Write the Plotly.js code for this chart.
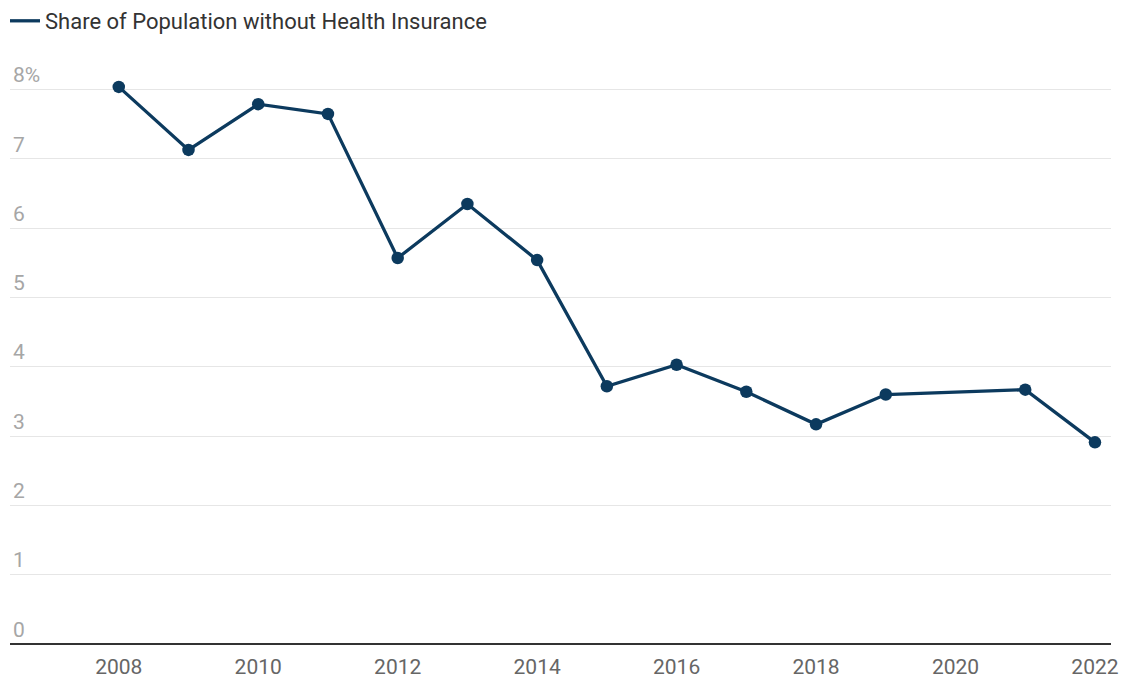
<!DOCTYPE html>
<html>
<head>
<meta charset="utf-8">
<script src="https://cdn.plot.ly/plotly-3.0.1.min.js"></script>
<style>html,body{margin:0;padding:0;background:#fff;}#chart{width:1123px;height:679px;}</style>
</head>
<body>
<div id="chart"></div>
<script>
const years = [2008, 2009, 2010, 2011, 2012, 2013, 2014, 2015, 2016, 2017, 2018, 2019, 2021, 2022];
const uninsuredShare = [8.04, 7.13, 7.79, 7.65, 5.57, 6.35, 5.54, 3.72, 4.03, 3.64, 3.17, 3.60, 3.67, 2.91];
const seriesName = "Share of Population without Health Insurance";
const yTickVals = [0, 1, 2, 3, 4, 5, 6, 7, 8];
const yTickText = ["0", "1", "2", "3", "4", "5", "6", "7", "8%"];
const xTickVals = [2008, 2010, 2012, 2014, 2016, 2018, 2020, 2022];

const color = "#0c3a5e";
const data = [
  {
    x: years, y: uninsuredShare, type: "scatter", mode: "lines+markers",
    line: {color: color, width: 3.3}, marker: {color: color, size: 12.5},
    showlegend: false, hoverinfo: "x+y"
  },
  {
    x: [null], y: [null], type: "scatter", mode: "lines",
    name: seriesName, line: {color: color, width: 3.3}, showlegend: true
  }
];
const layout = {
  width: 1123, height: 679,
  margin: {l: 10, r: 12, t: 55, b: 35},
  paper_bgcolor: "#fff", plot_bgcolor: "#fff",
  font: {family: "Roboto, 'Open Sans', sans-serif", size: 21, color: "#333"},
  showlegend: true,
  legend: {x: 5/1123, y: 1, xref: "container", yref: "container", xanchor: "left", yanchor: "top",
           orientation: "h", font: {size: 22, color: "#333"}, itemwidth: 30, bgcolor: "rgba(0,0,0,0)"},
  xaxis: {
    range: [2006.44, 2022.23], tickvals: xTickVals, showgrid: false, zeroline: false,
    ticks: "outside", ticklen: 4, tickcolor: "rgba(0,0,0,0)",
    tickfont: {size: 21, color: "#666"}, showline: false, fixedrange: true
  },
  yaxis: {
    range: [0, 8.5], tickvals: yTickVals, ticktext: yTickText,
    ticklabelposition: "inside top", tickfont: {size: 21, color: "#a6a6a6"},
    showgrid: true, gridcolor: "#e6e6e6", gridwidth: 1,
    zeroline: true, zerolinecolor: "#333", zerolinewidth: 2,
    showline: false, ticks: "", fixedrange: true
  }
};
Plotly.newPlot("chart", data, layout, {displayModeBar: false, staticPlot: true});
</script>
</body>
</html>
